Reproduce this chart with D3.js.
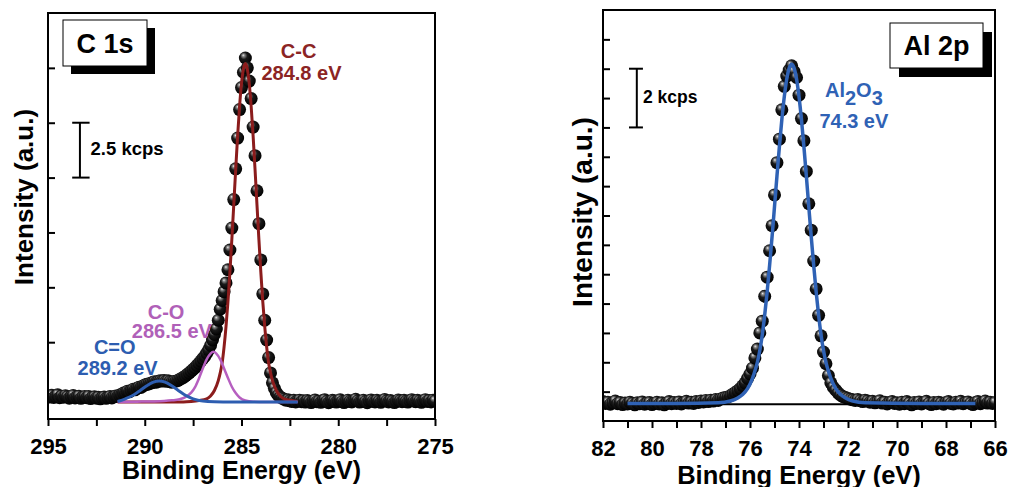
<!DOCTYPE html>
<html>
<head>
<meta charset="utf-8">
<script src="https://cdn.jsdelivr.net/npm/d3@7"></script>
<style>
    body { margin: 0; background: #fff; }
    svg { display: block; font-family: "Liberation Sans", Arial, sans-serif; font-weight: bold; }
</style>
</head>
<body>
<svg id="chart" width="1009" height="487"></svg>
<script>
// C 1s scan: 295.0 -> 275.0 eV, 0.1 eV step, counts in kcps
var c1sStart = 295, c1sStep = 0.1;
var c1sCounts = [
    1.05, 1.00, 1.08, 0.98, 1.02, 1.10, 0.97, 1.04, 0.99, 1.06,
    1.01, 0.95, 1.03, 1.07, 0.96, 1.00, 1.04, 0.94, 0.99, 1.02,
    0.97, 1.03, 0.93, 0.98, 1.01, 0.95, 0.99, 0.92, 0.97, 1.00,
    0.94, 0.98, 1.02, 0.96, 1.01, 1.05, 1.03, 1.09, 1.12, 1.18,
    1.20, 1.26, 1.24, 1.30, 1.35, 1.33, 1.40, 1.45, 1.44, 1.50,
    1.55, 1.58, 1.60, 1.63, 1.66, 1.70, 1.68, 1.72, 1.74, 1.73,
    1.75, 1.72, 1.74, 1.70, 1.68, 1.71, 1.72, 1.75, 1.80, 1.85,
    1.90, 1.96, 2.03, 2.10, 2.18, 2.26, 2.34, 2.44, 2.54, 2.64,
    2.75, 2.85, 3.00, 3.15, 3.35, 3.60, 3.85, 4.10, 4.50, 5.00,
    5.40, 5.80, 6.20, 6.80, 7.70, 8.70, 10.0, 11.4, 12.8, 14.1,
    15.1, 15.8, 16.45, 16.0, 15.4, 14.6, 13.3, 12.0, 10.4, 8.90,
    7.25, 5.70, 4.50, 3.60, 2.80, 2.10, 1.65, 1.40, 1.20, 1.08,
    1.00, 0.95, 0.90, 0.86, 0.88, 0.83, 0.80, 0.85, 0.78, 0.82,
    0.86, 0.79, 0.83, 0.77, 0.84, 0.80, 0.75, 0.82, 0.87, 0.79,
    0.81, 0.76, 0.84, 0.88, 0.80, 0.74, 0.79, 0.85, 0.82, 0.77,
    0.83, 0.88, 0.79, 0.75, 0.81, 0.86, 0.80, 0.78, 0.84, 0.90,
    0.82, 0.77, 0.80, 0.86, 0.79, 0.74, 0.83, 0.87, 0.81, 0.78,
    0.85, 0.80, 0.76, 0.83, 0.89, 0.82, 0.78, 0.84, 0.80, 0.75,
    0.81, 0.87, 0.83, 0.79, 0.85, 0.80, 0.77, 0.84, 0.88, 0.82,
    0.79, 0.85, 0.81, 0.76, 0.83, 0.88, 0.80, 0.84, 0.78, 0.86,
    0.82
];

// fitted components [eV, kcps]
var fitCC = [
    [291.4, 0.78], [288.0, 0.78], [287.6, 0.80], [287.2, 0.84], [286.8, 0.92],
    [286.6, 1.05], [286.4, 1.30], [286.2, 1.75], [286.1, 2.10], [286.0, 2.56],
    [285.9, 3.29], [285.8, 4.22], [285.7, 5.35], [285.6, 6.68], [285.5, 8.17],
    [285.4, 9.76], [285.3, 11.37], [285.2, 12.9], [285.1, 14.24], [285.0, 15.28],
    [284.9, 15.95], [284.8, 16.2], [284.7, 15.95], [284.6, 15.28], [284.5, 14.24],
    [284.4, 12.9], [284.3, 11.37], [284.2, 9.76], [284.1, 8.17], [284.0, 6.68],
    [283.9, 5.35], [283.8, 4.22], [283.7, 3.29], [283.6, 2.56], [283.5, 2.10],
    [283.4, 1.75], [283.2, 1.30], [283.0, 1.05], [282.8, 0.92], [282.4, 0.84],
    [282.1, 0.80]
];
var fitCO = [
    [291.4, 0.78], [290.4, 0.79], [289.6, 0.80], [289.0, 0.82], [288.6, 0.85],
    [288.2, 0.90], [287.9, 1.00], [287.6, 1.20], [287.4, 1.45], [287.2, 1.85],
    [287.0, 2.30], [286.8, 2.72], [286.6, 2.98], [286.45, 3.06], [286.3, 2.98],
    [286.1, 2.72], [285.9, 2.30], [285.7, 1.87], [285.5, 1.47], [285.3, 1.18],
    [285.1, 0.98], [284.8, 0.84], [284.4, 0.79], [283.8, 0.78], [282.1, 0.78]
];
var fitCdO = [
    [291.4, 0.80], [291.0, 0.92], [290.6, 1.08], [290.25, 1.29], [289.85, 1.54],
    [289.55, 1.68], [289.25, 1.73], [288.95, 1.68], [288.65, 1.54], [288.25, 1.29],
    [287.9, 1.08], [287.5, 0.92], [287.0, 0.82], [286.4, 0.79], [285.5, 0.78],
    [282.1, 0.78]
];
var c1sMajorTicks = [295, 290, 285, 280, 275];
var c1sMinorTicks = [292.5, 287.5, 282.5, 277.5];
var c1sYTicks = [1, 3.5, 6, 8.5, 11, 13.5, 16];

// Al 2p scan: 82.0 -> 66.0 eV, 0.1 eV step, counts in kcps
var al2pStart = 82, al2pStep = 0.1;
var al2pCounts = [
    0.66, 0.60, 0.64, 0.57, 0.62, 0.68, 0.59, 0.63, 0.56, 0.61,
    0.58, 0.64, 0.60, 0.55, 0.62, 0.59, 0.65, 0.57, 0.61, 0.63,
    0.56, 0.60, 0.64, 0.58, 0.62, 0.55, 0.61, 0.66, 0.59, 0.63,
    0.60, 0.65, 0.58, 0.62, 0.67, 0.61, 0.64, 0.60, 0.66, 0.63,
    0.68, 0.65, 0.70, 0.66, 0.71, 0.68, 0.73, 0.70, 0.75, 0.78,
    0.80, 0.82, 0.86, 0.92, 0.97, 1.03, 1.10, 1.20, 1.30, 1.45,
    1.60, 1.80, 2.15, 2.45, 3.00, 3.40, 4.25, 4.90, 5.80, 6.65,
    7.70, 8.80, 9.60, 10.6, 11.4, 11.75, 11.95, 12.1, 11.9, 11.7,
    11.1, 10.3, 9.55, 8.50, 7.40, 6.50, 5.45, 4.50, 3.60, 2.90,
    2.35, 1.95, 1.55, 1.30, 1.15, 1.05, 0.95, 0.88, 0.83, 0.80,
    0.77, 0.74, 0.72, 0.70, 0.73, 0.69, 0.66, 0.71, 0.68, 0.64,
    0.67, 0.62, 0.65, 0.69, 0.61, 0.64, 0.58, 0.63, 0.66, 0.60,
    0.62, 0.57, 0.64, 0.59, 0.66, 0.61, 0.55, 0.63, 0.60, 0.65,
    0.58, 0.62, 0.67, 0.60, 0.56, 0.63, 0.59, 0.64, 0.61, 0.57,
    0.63, 0.66, 0.60, 0.58, 0.64, 0.61, 0.67, 0.59, 0.62, 0.65,
    0.60, 0.56, 0.63, 0.66, 0.59, 0.62, 0.68, 0.61, 0.64, 0.60,
    0.63
];
var fitAl2O3 = [
    [81.0, 0.60], [79.0, 0.60], [77.3, 0.62], [76.8, 0.68], [76.5, 0.78],
    [76.3, 0.90], [76.1, 1.10], [75.9, 1.45], [75.8, 1.70], [75.7, 2.00],
    [75.6, 2.40], [75.5, 2.93], [75.4, 3.61], [75.3, 4.40], [75.2, 5.30],
    [75.1, 6.27], [75.0, 7.30], [74.9, 8.34], [74.8, 9.35], [74.7, 10.27],
    [74.6, 11.05], [74.5, 11.65], [74.4, 12.02], [74.3, 12.15], [74.2, 12.02],
    [74.1, 11.65], [74.0, 11.05], [73.9, 10.27], [73.8, 9.35], [73.7, 8.34],
    [73.6, 7.30], [73.5, 6.27], [73.4, 5.30], [73.3, 4.40], [73.2, 3.61],
    [73.1, 2.93], [73.0, 2.40], [72.9, 2.00], [72.8, 1.70], [72.7, 1.45],
    [72.5, 1.10], [72.3, 0.90], [72.1, 0.78], [71.8, 0.68], [71.3, 0.62],
    [69.0, 0.60], [66.8, 0.60]
];
var al2pBackground = [[81.0, 0.57], [66.8, 0.57]];
var al2pMajorTicks = [82, 80, 78, 76, 74, 72, 70, 68, 66];
var al2pMinorTicks = [81, 79, 77, 75, 73, 71, 69, 67];
var al2pYTicks = [1, 2, 3, 4, 5, 6, 7, 8, 9, 10, 11, 12, 13];

var svg = d3.select('#chart');
var defs = svg.append('defs');

// shaded sphere for the data points
var ball = defs.append('radialGradient')
    .attr('id', 'ball')
    .attr('cx', '45%')
    .attr('cy', '40%')
    .attr('r', '60%')
    .attr('fx', '33%')
    .attr('fy', '28%');
ball.append('stop').attr('offset', '0%').attr('stop-color', '#eeeeee');
ball.append('stop').attr('offset', '16%').attr('stop-color', '#8a8a8a');
ball.append('stop').attr('offset', '45%').attr('stop-color', '#1a1a1a');
ball.append('stop').attr('offset', '100%').attr('stop-color', '#000');

function spectrumPanel(id, frame, xDomain, yDomain) {
    var x = d3.scaleLinear().domain(xDomain).range([frame.left, frame.right]),
        y = d3.scaleLinear().domain(yDomain).range([frame.bottom, frame.top]);

    defs.append('clipPath')
        .attr('id', 'clip-' + id)
        .append('rect')
        .attr('x', frame.left)
        .attr('y', frame.top)
        .attr('width', frame.right - frame.left)
        .attr('height', frame.bottom - frame.top);

    var g = svg.append('g').attr('class', 'panel-' + id);

    return {
        x: x,
        y: y,
        g: g,
        frame: frame,
        axes: g.append('g'),
        plot: g.append('g').attr('clip-path', 'url(#clip-' + id + ')'),
        top: g.append('g')
    };
}

function drawAxes(p, major, minor, yTicks, labelDrop) {
    var xAxis = d3.axisBottom(p.x)
        .tickValues(major.concat(minor))
        .tickSize(7)
        .tickFormat(function(d) { return major.indexOf(d) >= 0 ? d : ''; });

    var gx = p.axes.append('g')
        .attr('transform', 'translate(0,' + p.frame.bottom + ')')
        .call(xAxis);
    gx.select('.domain').remove();
    gx.selectAll('line').attr('stroke', '#000').attr('stroke-width', 2);
    gx.selectAll('text')
        .attr('y', labelDrop)
        .attr('dy', 0)
        .attr('fill', '#000')
        .style('font-size', '22px')
        .style('font-weight', 'bold')
        .style('font-family', '"Liberation Sans", Arial, sans-serif');

    var yAxis = d3.axisLeft(p.y)
        .tickValues(yTicks)
        .tickSize(-7)
        .tickFormat('');

    var gy = p.axes.append('g')
        .attr('transform', 'translate(' + p.frame.left + ',0)')
        .call(yAxis);
    gy.select('.domain').remove();
    gy.selectAll('line').attr('stroke', '#000').attr('stroke-width', 2);
}

function drawPoints(p, start, step, counts) {
    var pts = counts.map(function(v, i) { return [start - i * step, v]; });
    p.plot.append('g')
        .selectAll('circle')
        .data(pts)
        .enter()
        .append('circle')
        .attr('cx', function(d) { return p.x(d[0]); })
        .attr('cy', function(d) { return p.y(d[1]); })
        .attr('r', 6.5)
        .attr('fill', 'url(#ball)');
}

function drawLine(p, pts, color, width) {
    var line = d3.line()
        .x(function(d) { return p.x(d[0]); })
        .y(function(d) { return p.y(d[1]); })
        .curve(d3.curveMonotoneX);
    p.plot.append('path')
        .datum(pts)
        .attr('d', line)
        .attr('fill', 'none')
        .attr('stroke', color)
        .attr('stroke-width', width)
        .attr('stroke-linejoin', 'round');
}

function drawFrame(p) {
    var f = p.frame;
    p.top.append('rect')
        .attr('x', f.left)
        .attr('y', f.top)
        .attr('width', f.right - f.left)
        .attr('height', f.bottom - f.top)
        .attr('fill', 'none')
        .attr('stroke', '#000')
        .attr('stroke-width', 2);
}

function scaleBar(p, e, lo, hi, capL, capR) {
    var g = p.top.append('g').attr('stroke', '#000').attr('stroke-width', 2);
    g.append('line')
        .attr('x1', p.x(e)).attr('x2', p.x(e))
        .attr('y1', p.y(lo)).attr('y2', p.y(hi));
    [lo, hi].forEach(function(v) {
        g.append('line')
            .attr('x1', p.x(capL)).attr('x2', p.x(capR))
            .attr('y1', p.y(v)).attr('y2', p.y(v));
    });
}

function label(p, text, e, v, color, size, anchor) {
    return p.top.append('text')
        .attr('x', p.x(e))
        .attr('y', p.y(v))
        .attr('text-anchor', anchor || 'middle')
        .attr('fill', color)
        .style('font-size', size + 'px')
        .text(text);
}

function titleBox(p, text, bx, by, bw, bh, shift, baseline) {
    p.top.append('rect')
        .attr('x', bx + shift).attr('y', by + shift)
        .attr('width', bw).attr('height', bh)
        .attr('fill', '#000');
    p.top.append('rect')
        .attr('x', bx).attr('y', by)
        .attr('width', bw).attr('height', bh)
        .attr('fill', '#fff')
        .attr('stroke', '#000')
        .attr('stroke-width', 1);
    p.top.append('text')
        .attr('x', bx + bw / 2)
        .attr('y', baseline)
        .attr('text-anchor', 'middle')
        .style('font-size', '27px')
        .text(text);
}

function axisTitles(p, xBase, xSize, yBase, yMid, ySize) {
    var f = p.frame;
    p.g.append('text')
        .attr('x', (f.left + f.right) / 2)
        .attr('y', xBase)
        .attr('text-anchor', 'middle')
        .style('font-size', xSize + 'px')
        .text('Binding Energy (eV)');
    p.g.append('text')
        .attr('transform', 'translate(' + yBase + ',' + yMid + ') rotate(-90)')
        .attr('text-anchor', 'middle')
        .style('font-size', ySize + 'px')
        .text('Intensity (a.u.)');
}

// ---- C 1s ----
var c1s = spectrumPanel('c1s', {left: 48, right: 435, top: 13, bottom: 419}, [295, 275], [0, 18.5]);
drawAxes(c1s, c1sMajorTicks, c1sMinorTicks, c1sYTicks, 35);
drawPoints(c1s, c1sStart, c1sStep, c1sCounts);
drawLine(c1s, fitCC, '#8b1c1c', 3);
drawLine(c1s, fitCO, '#b65fc0', 2.5);
drawLine(c1s, fitCdO, '#2d5db0', 3);
drawFrame(c1s);
axisTitles(c1s, 479, 25, 33, 197, 26);
titleBox(c1s, 'C 1s', 63, 20, 84, 46, 8, 53);
scaleBar(c1s, 293.35, 11, 13.5, 293.75, 292.85);
label(c1s, '2.5 kcps', 292.8, 12.05, '#000', 18.5, 'start');
label(c1s, 'C-C', 282.05, 16.45, '#8b2424', 20);
label(c1s, '284.8 eV', 281.9, 15.45, '#8b2424', 20);
label(c1s, 'C-O', 288.9, 4.55, '#b060b8', 20);
label(c1s, '286.5 eV', 288.6, 3.7, '#b060b8', 20);
label(c1s, 'C=O', 291.55, 2.97, '#2d5db0', 20);
label(c1s, '289.2 eV', 291.4, 2.0, '#2d5db0', 20);

// ---- Al 2p ----
var al2p = spectrumPanel('al2p', {left: 603, right: 995, top: 10, bottom: 421}, [82, 66], [0, 14]);
drawAxes(al2p, al2pMajorTicks, al2pMinorTicks, al2pYTicks, 35);
drawPoints(al2p, al2pStart, al2pStep, al2pCounts);
drawLine(al2p, al2pBackground, '#000', 2);
drawLine(al2p, fitAl2O3, '#2f62b5', 3.5);
drawFrame(al2p);
axisTitles(al2p, 484, 25.5, 592, 212, 28);
titleBox(al2p, 'Al 2p', 890, 23, 93, 45, 9, 55);
scaleBar(al2p, 80.62, 10, 12, 80.94, 80.37);
label(al2p, '2 kcps', 80.37, 10.82, '#000', 17.5, 'start');

var al2o3 = label(al2p, 'Al', 71.76, 11.02, '#2f62b5', 20);
al2o3.append('tspan').attr('dy', 8).text('2');
al2o3.append('tspan').attr('dy', -8).text('O');
al2o3.append('tspan').attr('dy', 8).text('3');
label(al2p, '74.3 eV', 71.76, 9.97, '#2f62b5', 20);
</script>
</body>
</html>
